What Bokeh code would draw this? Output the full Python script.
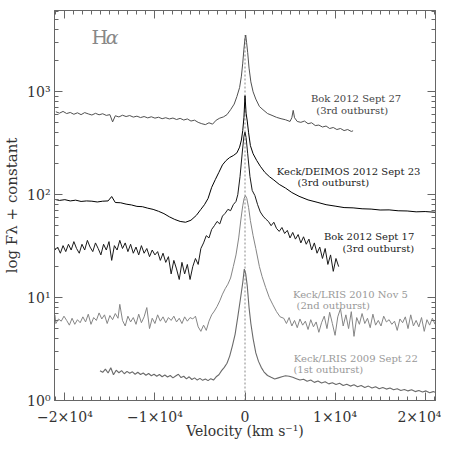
from bokeh.plotting import figure
from bokeh.models import FixedTicker, LogAxis, LinearAxis, Label
from bokeh.embed import file_html
from bokeh.resources import INLINE

# ---------------- data (velocity km/s, flux + constant) ----------------
v_bok27 = [-21000, -20600, -20200, -19800, -19400, -19000, -18600, -18200, -17800, -17400,
           -17000, -16600, -16200, -15800, -15400, -15000, -14700, -14400, -14000, -13600,
           -13200, -12800, -12400, -12000, -11600, -11200, -10800, -10400, -10000, -9600,
           -9200, -8800, -8400, -8000, -7600, -7200, -6800, -6400, -6000, -5600,
           -5200, -4800, -4400, -4000, -3600, -3200, -2800, -2400, -2000, -1600,
           -1200, -900, -600, -400, -250, -120, 0, 80, 180, 300,
           450, 650, 900, 1200, 1600, 2000, 2500, 3000, 3500, 4000,
           4500, 5000, 5200, 5350, 5500, 5800, 6200, 6600, 7000, 7400,
           7800, 8200, 8600, 9000, 9400, 9800, 10200, 10600, 11000, 11400,
           11800, 12000]
f_bok27 = [640, 620, 645, 615, 630, 605, 625, 600, 628, 610,
           595, 618, 598, 612, 590, 600, 510, 585, 570, 592,
           575, 588, 568, 580, 562, 575, 558, 572, 555, 566,
           548, 560, 545, 556, 538, 552, 532, 545, 520, 530,
           505, 490, 480, 500, 485, 530, 555, 570, 600, 670,
           760, 900, 1100, 1420, 1900, 2600, 3300, 3560, 3000, 2400,
           1700, 1250, 1000, 850, 720, 670, 615, 590, 565, 548,
           535, 515, 560, 660, 560, 515, 505, 520, 490, 500,
           470, 475, 455, 465, 440, 450, 430, 440, 420, 430,
           412, 418]

v_deimos = [-21100, -20600, -20000, -19400, -18800, -18200, -17600, -17000, -16400, -15800,
            -15200, -14800, -14400, -13800, -13200, -12600, -12000, -11400, -10800, -10200,
            -9600, -9000, -8400, -7800, -7200, -6600, -6000, -5400, -4900, -4500,
            -4100, -3700, -3300, -2900, -2500, -2100, -1700, -1300, -900, -600,
            -400, -250, -120, 0, 120, 250, 400, 600, 900, 1300,
            1700, 2200, 2700, 3200, 3800, 4500, 5200, 6000, 7000, 8000,
            9000, 10000, 11000, 12000, 13000, 14000, 15000, 16000, 17000, 18000,
            19000, 20000, 21100]
f_deimos = [90, 88, 89.5, 87, 88.5, 86, 87, 86.5, 85, 86.5,
            87, 96, 84, 83.5, 81, 79.5, 77, 76.5, 74, 72,
            69, 65.5, 61, 57.5, 55, 54, 56.5, 63, 72, 80,
            92, 118, 140, 165, 195, 215, 230, 240, 255, 290,
            340, 420, 560, 916, 620, 520, 400, 300, 250, 215,
            189, 165, 150, 139, 126, 116, 105, 96.5, 89, 84.5,
            80, 77.5, 75, 74.5, 73, 72.5, 71, 71.2, 69.8, 69.5,
            68.2, 68.6, 67.5]

v_bok17 = [-21100, -20800, -20500, -20200, -19900, -19600, -19300, -19000, -18700, -18400,
           -18100, -17800, -17500, -17200, -16900, -16600, -16300, -16000, -15700, -15400,
           -15100, -14800, -14500, -14200, -13900, -13600, -13300, -13000, -12700, -12400,
           -12100, -11800, -11500, -11200, -10900, -10600, -10300, -10000, -9700, -9400,
           -9100, -8800, -8500, -8200, -7900, -7600, -7300, -7000, -6700, -6400,
           -6100, -5800, -5500, -5200, -4900, -4600, -4300, -4000, -3700, -3400,
           -3100, -2800, -2500, -2200, -1900, -1600, -1300, -1000, -800, -550,
           -300, -120, 0, 120, 300, 550, 800, 1100, 1400, 1700,
           2000, 2300, 2600, 2900, 3200, 3500, 3800, 4100, 4400, 4700,
           5000, 5300, 5600, 5900, 6200, 6500, 6800, 7100, 7400, 7700,
           8000, 8300, 8600, 8900, 9200, 9500, 9800, 10100, 10400]
f_bok17 = [29, 31, 27, 32, 28, 33, 29, 35, 30, 27,
           33, 29, 36, 31, 28, 34, 30, 26, 33, 29,
           35, 23, 32, 29, 36, 30, 34, 28, 33, 27,
           31, 26, 32, 27, 30, 25, 29, 26, 28, 23,
           27, 22, 25, 17, 23, 19, 15, 22, 17, 21,
           15, 20, 24, 21, 30, 34, 40, 38, 46, 50,
           55, 52, 62, 66, 72, 70, 80, 86, 100, 150,
           260, 370, 405, 360, 250, 150, 110, 98, 80, 68,
           62, 58, 55, 50, 54, 47, 44, 48, 42, 45,
           38, 43, 37, 41, 34, 39, 33, 37, 29, 34,
           27, 31, 24, 30, 21, 26, 18, 24, 20]

v_lris10 = [-21100, -21000, -20700, -20400, -20100, -19800, -19500, -19200, -18900, -18600,
            -18300, -18000, -17700, -17400, -17100, -16800, -16500, -16200, -15900, -15600,
            -15300, -15000, -14700, -14400, -14100, -13900, -13600, -13300, -13000, -12700,
            -12400, -12100, -11800, -11500, -11200, -10900, -10600, -10300, -10000, -9700,
            -9400, -9100, -8800, -8500, -8200, -7900, -7600, -7300, -7000, -6700,
            -6400, -6100, -5800, -5500, -5200, -4900, -4600, -4300, -4000, -3700,
            -3400, -3100, -2800, -2500, -2200, -1900, -1600, -1300, -1000, -700,
            -450, -250, -100, 50, 200, 400, 600, 900, 1200, 1600,
            1900, 2300, 2700, 3100, 3500, 3900, 4300, 4600, 4900, 5200,
            5500, 5800, 6100, 6400, 6700, 7000, 7300, 7600, 7900, 8200,
            8500, 8800, 9100, 9400, 9700, 10000, 10300, 10600, 10900, 11200,
            11500, 11800, 12100, 12400, 12700, 13000, 13300, 13600, 13900, 14200,
            14500, 14800, 15100, 15400, 15700, 16000, 16300, 16600, 16900, 17200,
            17500, 17800, 18100, 18400, 18700, 19000, 19300, 19600, 19900, 20200,
            20500, 20800, 21100]
f_lris10 = [6.8, 5.6, 6.2, 5.9, 6.6, 6.0, 5.4, 6.3, 5.5, 6.1,
            5.7, 6.5, 5.8, 6.9, 5.5, 6.4, 6.0, 7.1, 6.2, 6.8,
            5.6, 6.7, 6.1, 7.0, 6.3, 8.6, 6.0, 5.3, 6.6, 5.8,
            6.4, 5.5, 6.9, 5.7, 6.5, 8.0, 5.0, 6.3, 5.6, 6.8,
            5.9, 6.5, 5.7, 6.4, 6.0, 6.6, 5.8, 6.3, 5.6, 6.5,
            5.9, 6.4, 6.2, 6.6, 5.2, 4.7, 5.4, 4.8, 5.9, 6.8,
            7.4, 8.2, 9.3, 10.8, 12.2, 13.5, 15.5, 20, 26, 38,
            58, 78, 92, 98, 92, 75, 56, 40, 30, 20,
            16, 12.5, 10, 8.5, 7.3, 6.5, 6.3, 5.6, 6.4, 5.3,
            6.0, 5.1, 6.2, 5.4, 5.9, 4.9, 6.1, 5.2, 5.8, 4.6,
            5.7, 6.6, 5.0, 7.2, 5.6, 4.3, 6.5, 7.8, 5.3, 6.8,
            5.0, 7.3, 4.2, 6.4, 5.5, 7.0, 5.6, 6.3, 5.1, 6.9,
            5.4, 6.0, 5.3, 6.6, 5.8, 6.1, 5.5, 5.9, 4.8, 6.2,
            5.7, 6.5, 5.0, 6.8, 5.3, 6.0, 5.2, 6.4, 4.7, 6.1,
            5.4, 6.3, 5.5]

v_lris09 = [-16100, -15800, -15500, -15200, -14900, -14600, -14300, -14000, -13700, -13400,
            -13100, -12800, -12500, -12200, -11900, -11600, -11300, -11000, -10700, -10400,
            -10100, -9800, -9500, -9200, -8900, -8600, -8300, -8000, -7700, -7400,
            -7100, -6800, -6500, -6200, -5900, -5600, -5300, -5000, -4700, -4400,
            -4100, -3800, -3500, -3200, -2900, -2600, -2300, -2000, -1700, -1400,
            -1100, -800, -500, -250, -80, 80, 250, 450, 650, 900,
            1200, 1500, 1800, 2100, 2500, 2900, 3300, 3700, 4100, 4500,
            4900, 5300, 5700, 6100, 6500, 6900, 7300, 7700, 8100, 8500,
            8900, 9300, 9700, 10100, 10500, 10900, 11300, 11700, 12100, 12500,
            12900, 13300, 13700, 14100, 14500, 14900, 15300, 15700, 16100, 16500,
            16900, 17300, 17700, 18100, 18500, 18900, 19300, 19700, 20100, 20500,
            20900, 21100]
f_lris09 = [1.95, 1.88, 2.02, 1.85, 2.08, 1.78, 1.97, 1.86, 1.95, 1.82,
            1.92, 1.84, 1.90, 1.80, 1.88, 1.79, 1.85, 1.76, 1.83, 1.74,
            1.80, 1.72, 1.79, 1.70, 1.77, 1.69, 1.75, 1.66, 1.73, 1.80,
            1.67, 1.72, 1.62, 1.70, 1.60, 1.66, 1.58, 1.64, 1.57, 1.62,
            1.56, 1.63, 1.58, 1.70, 1.78, 1.95, 2.1, 2.3, 2.7, 3.4,
            4.4, 6.5, 9.8, 14, 18.9, 17, 13, 8, 5.6, 4.0,
            2.9, 2.4, 2.1, 1.9, 1.75, 1.68, 1.62, 1.66, 1.70, 1.74,
            1.72, 1.68, 1.63, 1.58, 1.61, 1.54, 1.58, 1.50, 1.55, 1.48,
            1.52, 1.45, 1.49, 1.43, 1.47, 1.40, 1.44, 1.38, 1.42, 1.36,
            1.40, 1.34, 1.38, 1.32, 1.36, 1.30, 1.34, 1.29, 1.32, 1.27,
            1.30, 1.25, 1.28, 1.24, 1.27, 1.22, 1.25, 1.21, 1.24, 1.19,
            1.22, 1.20]

x_major_ticks = [-20000, -10000, 0, 10000, 20000]
x_tick_labels = ["\u22122\u00d710\u2074", "\u22121\u00d710\u2074", "0", "1\u00d710\u2074", "2\u00d710\u2074"]
y_major_ticks = [1, 10, 100, 1000]
y_tick_labels = ["10\u2070", "10\u00b9", "10\u00b2", "10\u00b3"]

labels = [
    ("Bok 2012 Sept 27", 12330, 858, "#444444"),
    ("(3rd outburst)", 11900, 659, "#444444"),
    ("Keck/DEIMOS 2012 Sept 23", 11500, 169, "#222222"),
    ("(3rd outburst)", 9800, 130, "#222222"),
    ("Bok 2012 Sept 17", 13780, 38.9, "#222222"),
    ("(3rd outburst)", 14800, 29.9, "#222222"),
    ("Keck/LRIS 2010 Nov 5", 11700, 10.7, "#999999"),
    ("(2nd outburst)", 9800, 8.4, "#999999"),
    ("Keck/LRIS 2009 Sept 22", 12300, 2.57, "#999999"),
    ("(1st outburst)", 9250, 2.02, "#999999"),
]

FONT = "DejaVu Serif"
AX = "#666666"

p = figure(width=441, height=441, x_range=(-21150, 21150), y_range=(1.0, 6170),
           y_axis_type="log", output_backend="svg", toolbar_location=None,
           min_border_left=46, min_border_right=6, min_border_top=10, min_border_bottom=38)
p.grid.visible = False
p.outline_line_color = AX
p.background_fill_color = "white"
p.border_fill_color = "white"

x_minor = list(range(-21000, 21001, 1000))
y_minor = [m * 10 ** e for e in range(0, 4) for m in range(2, 10)]


def style(ax, show_labels=True):
    ax.axis_line_color = AX
    ax.major_tick_line_color = AX
    ax.minor_tick_line_color = AX
    ax.major_tick_in = 8
    ax.major_tick_out = 0
    ax.minor_tick_in = 4
    ax.minor_tick_out = 0
    ax.major_label_text_font = FONT
    ax.major_label_text_color = "#333333"
    ax.major_label_text_font_size = "14px"
    ax.axis_label_text_font = FONT
    ax.axis_label_text_font_style = "normal"
    ax.axis_label_text_color = "#333333"
    ax.axis_label_text_font_size = "15px"
    if not show_labels:
        ax.major_label_text_font_size = "1px"
        ax.major_label_text_alpha = 0
        ax.major_label_standoff = 0


p.xaxis.ticker = FixedTicker(ticks=x_major_ticks, minor_ticks=x_minor)
p.yaxis.ticker = FixedTicker(ticks=y_major_ticks, minor_ticks=y_minor)
p.xaxis.major_label_overrides = {t: s for t, s in zip(x_major_ticks, x_tick_labels)}
p.yaxis.major_label_overrides = {t: s for t, s in zip(y_major_ticks, y_tick_labels)}
p.xaxis.axis_label = "Velocity (km s\u207b\u00b9)"
p.yaxis.axis_label = "log F\u03bb + constant"
for ax in p.xaxis + p.yaxis:
    style(ax)
p.xaxis.axis_label_text_font_size = "14px"
p.xaxis.major_label_standoff = 8
p.xaxis.axis_label_standoff = -5
p.yaxis.major_label_standoff = 4
p.yaxis.axis_label_standoff = 3

top = LinearAxis(ticker=FixedTicker(ticks=x_major_ticks, minor_ticks=x_minor))
style(top, False)
p.add_layout(top, "above")
right = LogAxis(ticker=FixedTicker(ticks=y_major_ticks, minor_ticks=y_minor))
style(right, False)
p.add_layout(right, "right")

# dotted line at zero velocity, from the bottom up to the top of the highest peak
p.segment(x0=[0], y0=[p.y_range.start], x1=[0], y1=[max(f_bok27)],
          line_color="#888888", line_dash="2 2", line_width=1)

p.line(v_lris09, f_lris09, line_color="#6a6a6a", line_width=1.1)
p.line(v_lris10, f_lris10, line_color="#858585", line_width=1.0)
p.line(v_bok17, f_bok17, line_color="#1a1a1a", line_width=1.0)
p.line(v_deimos, f_deimos, line_color="#000000", line_width=1.0)
p.line(v_bok27, f_bok27, line_color="#505050", line_width=1.0)

for text, x, y, c in labels:
    p.add_layout(Label(x=x, y=y, text=text, text_font=FONT, text_font_size="10px",
                       text_color=c, text_align="center", text_baseline="middle"))

p.add_layout(Label(x=-17050, y=3414, text="H", text_font=FONT, text_font_size="19px",
                   text_color="#888888", text_align="left", text_baseline="middle"))
p.add_layout(Label(x=-15450, y=3414, text="\u03b1", text_font=FONT, text_font_size="19px",
                   text_font_style="italic", text_color="#888888", text_align="left",
                   text_baseline="middle"))

open("out.html", "w").write(file_html(p, INLINE))
